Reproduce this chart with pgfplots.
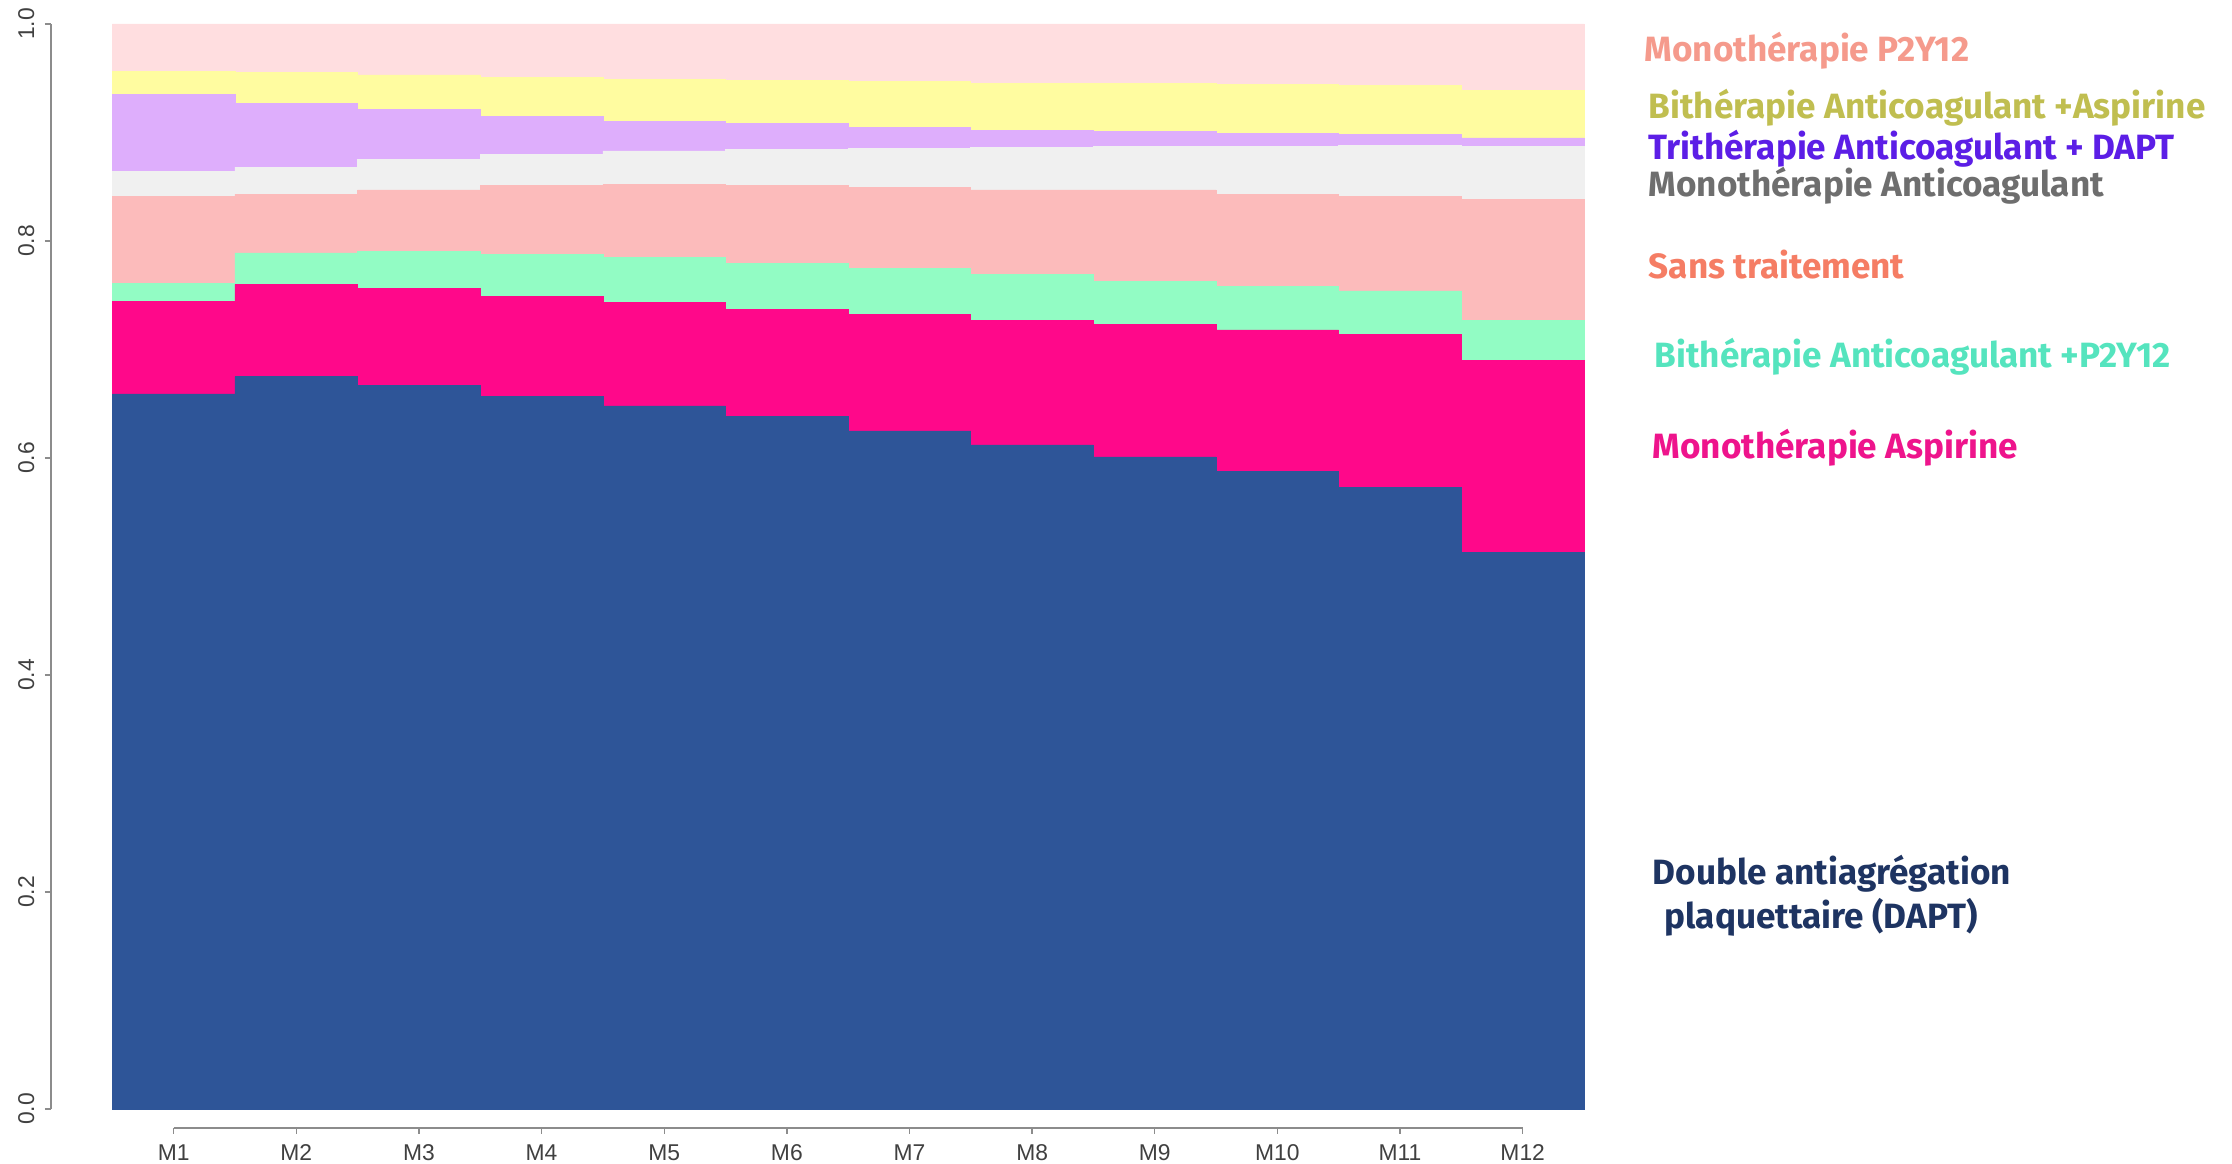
\documentclass[border=0pt]{standalone}
\usepackage{fontspec}
\setmainfont{Fira Sans}
\newfontfamily\tickfont{Liberation Sans}
\usepackage{pgfplots}
\pgfplotsset{compat=1.18}
\usepackage{pgfplotstable}

\definecolor{cDAPT}{HTML}{2E5598}
\definecolor{cASP}{HTML}{FF088A}
\definecolor{cBP2}{HTML}{92FCC4}
\definecolor{cSANS}{HTML}{FCBBBB}
\definecolor{cANTI}{HTML}{F0F0F0}
\definecolor{cTRI}{HTML}{DEAEFC}
\definecolor{cBASP}{HTML}{FFFCA0}
\definecolor{cMP2}{HTML}{FFDEE0}

\definecolor{tMP2}{HTML}{F59A8C}
\definecolor{tBASP}{HTML}{C0BE50}
\definecolor{tTRI}{HTML}{5C1EE6}
\definecolor{tANTI}{HTML}{6E6E6E}
\definecolor{tSANS}{HTML}{F57D64}
\definecolor{tBP2}{HTML}{55E4BE}
\definecolor{tASP}{HTML}{EE148C}
\definecolor{tDAPT}{HTML}{1E3462}

\pgfplotstableread{
x  dapt  asp   bp2   sans  anti  tri   basp  mp2
1  0.659 0.085 0.017 0.080 0.023 0.071 0.021 0.044
2  0.675 0.085 0.029 0.054 0.025 0.059 0.028 0.045
3  0.667 0.089 0.034 0.057 0.028 0.046 0.032 0.047
4  0.657 0.092 0.039 0.063 0.029 0.035 0.036 0.049
5  0.648 0.095 0.042 0.067 0.031 0.027 0.039 0.051
6  0.638 0.099 0.042 0.072 0.033 0.024 0.040 0.052
7  0.625 0.107 0.043 0.074 0.036 0.020 0.042 0.053
8  0.612 0.115 0.042 0.078 0.039 0.016 0.043 0.055
9  0.601 0.122 0.040 0.084 0.040 0.014 0.044 0.055
10 0.588 0.130 0.040 0.085 0.044 0.012 0.045 0.056
11 0.573 0.141 0.040 0.087 0.047 0.010 0.045 0.057
12 0.513 0.177 0.037 0.111 0.049 0.008 0.044 0.061
}\datatable

\begin{document}
\begin{tikzpicture}
\begin{axis}[
  scale only axis, width=15.33cm, height=11.04cm,
  at={(0,0)}, anchor=south west,
  xmin=0, xmax=12.5, ymin=-0.0175, ymax=1,
  ybar stacked, bar width=1,
  axis line style={draw=none},
  tick pos=left, tick align=outside,
  major tick length=0.06cm,
  tick style={black!45, line width=0.4pt},
  xtick={1,2,3,4,5,6,7,8,9,10,11,12},
  xticklabels={M1,M2,M3,M4,M5,M6,M7,M8,M9,M10,M11,M12},
  ytick={0,0.2,0.4,0.6,0.8,1},
  yticklabels={0.0,0.2,0.4,0.6,0.8,1.0},
  yticklabel style={rotate=90, anchor=south, font=\tickfont\fontsize{6.5}{7.5}\selectfont, text=black!75},
  xticklabel style={anchor=north, font=\tickfont\fontsize{6.5}{7.5}\selectfont, text=black!75},
  xticklabel shift=-0.5pt, yticklabel shift=-0.5pt,
  clip=false,
]
\addplot[fill=cDAPT, draw=cDAPT, line width=0.2pt] table[x=x,y=dapt]{\datatable};
\addplot[fill=cASP, draw=cASP, line width=0.2pt] table[x=x,y=asp]{\datatable};
\addplot[fill=cBP2, draw=cBP2, line width=0.2pt] table[x=x,y=bp2]{\datatable};
\addplot[fill=cSANS, draw=cSANS, line width=0.2pt] table[x=x,y=sans]{\datatable};
\addplot[fill=cANTI, draw=cANTI, line width=0.2pt] table[x=x,y=anti]{\datatable};
\addplot[fill=cTRI, draw=cTRI, line width=0.2pt] table[x=x,y=tri]{\datatable};
\addplot[fill=cBASP, draw=cBASP, line width=0.2pt] table[x=x,y=basp]{\datatable};
\addplot[fill=cMP2, draw=cMP2, line width=0.2pt] table[x=x,y=mp2]{\datatable};
\draw[black!45, line width=0.4pt] (axis cs:0,0) -- (axis cs:0,1);
\draw[black!45, line width=0.4pt] (axis cs:1,-0.0175) -- (axis cs:12,-0.0175);
\end{axis}
\begin{scope}[every node/.style={anchor=west, inner sep=0pt, font=\bfseries\fontsize{10}{12}\selectfont}]
\node[text=tMP2]  at (15.93,10.77) {Monothérapie P2Y12};
\node[text=tBASP] at (15.97,10.20) {Bithérapie Anticoagulant +Aspirine};
\node[text=tTRI]  at (15.97,9.79) {Trithérapie Anticoagulant + DAPT};
\node[text=tANTI] at (15.97,9.42) {Monothérapie Anticoagulant};
\node[text=tSANS] at (15.97,8.63) {Sans traitement};
\node[text=tBP2]  at (16.03,7.71) {Bithérapie Anticoagulant +P2Y12};
\node[text=tASP]  at (16.01,6.80) {Monothérapie Aspirine};
\node[text=tDAPT] at (16.01,2.54) {Double antiagrégation};
\node[text=tDAPT] at (16.13,2.11) {plaquettaire (DAPT)};
\end{scope}
\pgfresetboundingbox
\path (-0.51,-0.36) rectangle (21.81,11.28);
\end{tikzpicture}
\end{document}
